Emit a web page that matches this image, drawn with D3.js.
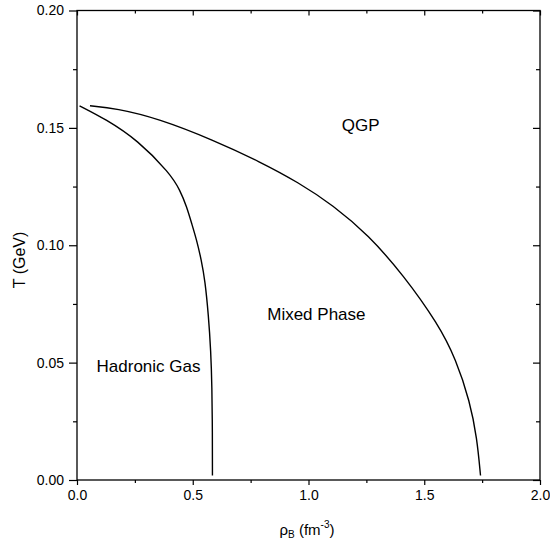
<!DOCTYPE html>
<html>
<head>
<meta charset="utf-8">
<script src="https://cdn.jsdelivr.net/npm/d3@7"></script>
<style>
  body { margin: 0; background: #fff; }
  svg { display: block; font-family: "Liberation Sans", Arial, sans-serif; }
</style>
</head>
<body>
<svg width="550" height="546"></svg>
<script>
// hadronic gas / mixed phase boundary (rho_B, T)
var hadronRho = [0.011, 0.124, 0.262, 0.402, 0.445, 0.474, 0.495, 0.517, 0.537, 0.553, 0.568, 0.578, 0.583, 0.585, 0.585];
var hadronT   = [0.1594, 0.1537, 0.1448, 0.1306, 0.1235, 0.1164, 0.1094, 0.1022, 0.0937, 0.0850, 0.0700, 0.0550, 0.0400, 0.0200, 0.0019];
// mixed phase / QGP boundary
var qgpRho = [0.056, 0.169, 0.351, 0.589, 0.790, 0.956, 1.107, 1.259, 1.410, 1.561, 1.637, 1.697, 1.728, 1.743];
var qgpT   = [0.1594, 0.1583, 0.1540, 0.1448, 0.1356, 0.1268, 0.1170, 0.1043, 0.0873, 0.0663, 0.0514, 0.0335, 0.0178, 0.0019];

var xTicks = [0, 0.5, 1.0, 1.5, 2.0];
var yTicks = [0, 0.05, 0.10, 0.15, 0.20];
var regionLabels = ["QGP", "Mixed Phase", "Hadronic Gas"];
var regionRho = [1.225, 1.034, 0.309];
var regionT   = [0.1513, 0.0708, 0.0487];

var svg = d3.select("svg"),
    margin = {top: 10.5, left: 77},
    width = 540 - 77,
    height = 480 - 10.5,
    g = svg.append("g").attr("transform", "translate(" + margin.left + "," + margin.top + ")");

var x = d3.scaleLinear().domain([0, 2]).range([0, width]);
var y = d3.scaleLinear().domain([0, 0.2]).range([height, 0]);

var minorX = [0.25, 0.75, 1.25, 1.75];
var minorY = [0.025, 0.075, 0.125, 0.175];

function styleAxis(sel) {
  sel.select(".domain").remove();
  sel.selectAll("line").attr("stroke", "#000").attr("stroke-width", 1.2);
  sel.selectAll("text").attr("fill", "#000").style("font-size", "14px");
}

// bottom axis, outward ticks
g.append("g").attr("transform", "translate(0," + height + ")")
  .call(d3.axisBottom(x).tickValues(xTicks).tickFormat(d3.format(".1f")).tickSize(5).tickPadding(5))
  .call(styleAxis);
g.append("g").attr("transform", "translate(0," + height + ")")
  .call(d3.axisBottom(x).tickValues(minorX).tickFormat("").tickSize(3))
  .call(styleAxis);

// left axis, outward ticks
g.append("g")
  .call(d3.axisLeft(y).tickValues(yTicks).tickFormat(d3.format(".2f")).tickSize(8).tickPadding(5))
  .call(styleAxis);
g.append("g")
  .call(d3.axisLeft(y).tickValues(minorY).tickFormat("").tickSize(4))
  .call(styleAxis);

// top and right mirrored ticks, inward
g.append("g")
  .call(d3.axisTop(x).tickValues(xTicks).tickFormat("").tickSize(-5))
  .call(styleAxis);
g.append("g")
  .call(d3.axisTop(x).tickValues(minorX).tickFormat("").tickSize(-3))
  .call(styleAxis);
g.append("g").attr("transform", "translate(" + width + ",0)")
  .call(d3.axisRight(y).tickValues(yTicks).tickFormat("").tickSize(-7))
  .call(styleAxis);
g.append("g").attr("transform", "translate(" + width + ",0)")
  .call(d3.axisRight(y).tickValues(minorY).tickFormat("").tickSize(-4))
  .call(styleAxis);

// frame
g.append("rect")
  .attr("width", width).attr("height", height)
  .attr("fill", "none").attr("stroke", "#000").attr("stroke-width", 1.3);

var line = d3.line()
  .x(function(d) { return x(d[0]); })
  .y(function(d) { return y(d[1]); })
  .curve(d3.curveBasis);

[[hadronRho, hadronT], [qgpRho, qgpT]].forEach(function(s) {
  g.append("path")
    .datum(d3.zip(s[0], s[1]))
    .attr("fill", "none")
    .attr("stroke", "#000")
    .attr("stroke-width", 1.4)
    .attr("d", line);
});

g.selectAll(".region").data(regionLabels).enter().append("text")
  .attr("class", "region")
  .attr("x", function(d, i) { return x(regionRho[i]); })
  .attr("y", function(d, i) { return y(regionT[i]); })
  .attr("text-anchor", "middle")
  .attr("dy", "0.35em")
  .style("font-size", "17px")
  .text(function(d) { return d; });

// axis titles
svg.append("text")
  .attr("transform", "translate(25,260) rotate(-90)")
  .attr("text-anchor", "middle")
  .style("font-size", "16px")
  .text("T (GeV)");

var xt = svg.append("text")
  .attr("x", 307)
  .attr("y", 535)
  .attr("text-anchor", "middle")
  .style("font-size", "15px");
xt.append("tspan").text("ρ");
xt.append("tspan").attr("dy", 3).style("font-size", "10px").text("B");
xt.append("tspan").attr("dy", -3).text(" (fm");
xt.append("tspan").attr("dy", -7).style("font-size", "10px").text("-3");
xt.append("tspan").attr("dy", 7).text(")");
</script>
</body>
</html>
